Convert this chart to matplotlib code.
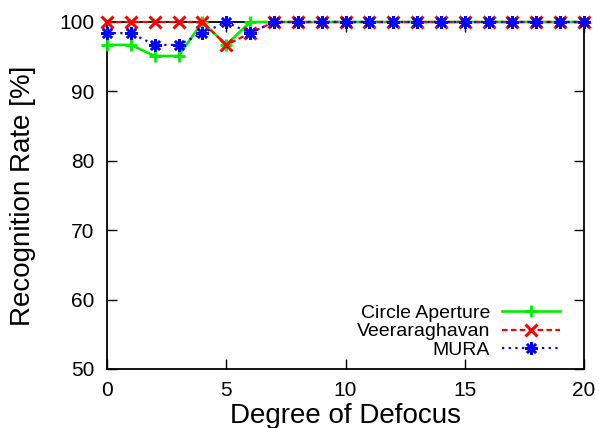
import numpy as np
import matplotlib
matplotlib.use("Agg")
import matplotlib.pyplot as plt

# data
defocus = list(range(0, 21))
circle_aperture = [96.7, 96.7, 95.1, 95.1, 100, 96.7, 100] + [100] * 14
veeraraghavan = [100, 100, 100, 100, 100, 96.7, 98.4] + [100] * 14
mura = [98.4, 98.4, 96.7, 96.7, 98.4, 100, 98.4] + [100] * 14

plt.rcParams['font.family'] = ['Liberation Sans', 'DejaVu Sans']

fig = plt.figure(figsize=(5.99, 4.28), dpi=100)
ax = fig.add_axes([0.1786, 0.1379, 0.7964, 0.8107])

ax.plot(defocus, circle_aperture, color='#00ee00', lw=1.9, marker='+',
        ms=9, mew=2, label='Circle Aperture', clip_on=False, zorder=3)
ax.plot(defocus, veeraraghavan, color='#ff0000', lw=1.6, ls=(0, (2.5, 1.5)),
        marker='x', ms=8, mew=2.2, label='Veeraraghavan', clip_on=False, zorder=4)
ax.plot(defocus, mura, color='#0000ff', lw=1.6, ls=(0, (1, 2)),
        marker=(8, 2, 0), ms=9, mew=1.8, label='MURA', clip_on=False, zorder=5)

ax.set_xlim(0, 20)
ax.set_ylim(50, 100)
ax.set_xticks([0, 5, 10, 15, 20])
ax.set_yticks([50, 60, 70, 80, 90, 100])
ax.tick_params(direction='in', length=7, width=1, labelsize=15,
               top=True, right=True)
ax.tick_params(axis='x', pad=9)
ax.tick_params(axis='y', pad=9)
for s in ax.spines.values():
    s.set_linewidth(1.3)

ax.set_xlabel('Degree of Defocus', fontsize=20, labelpad=2)
ax.set_ylabel('Recognition Rate [%]', fontsize=20, labelpad=17)

leg = ax.legend(loc='lower right', bbox_to_anchor=(0.950, 0.029),
                frameon=False, fontsize=14, markerfirst=False,
                handlelength=3.0, handletextpad=0.6, labelspacing=0.05,
                borderpad=0, borderaxespad=0)

fig.savefig('out.png', dpi=100)
